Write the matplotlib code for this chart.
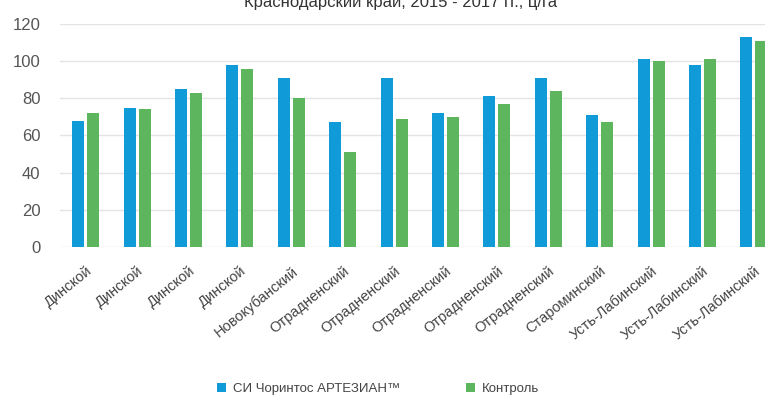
import matplotlib
matplotlib.use("Agg")
import matplotlib.pyplot as plt
import numpy as np

plt.rcParams.update({"font.family": ["Liberation Sans Narrow", "Liberation Sans", "DejaVu Sans"]})
BLUE, GREEN, GRID, TXT = "#109bd8", "#5db65d", "#e4e4e4", "#555555"

districts = ["Динской", "Динской", "Динской", "Динской", "Новокубанский",
             "Отрадненский", "Отрадненский", "Отрадненский", "Отрадненский",
             "Отрадненский", "Староминский", "Усть-Лабинский", "Усть-Лабинский",
             "Усть-Лабинский"]
artesian = [68, 75, 85, 98, 91, 67, 91, 72, 81, 91, 71, 101, 98, 113]
control = [72, 74, 83, 96, 80, 51, 69, 70, 77, 84, 67, 100, 101, 111]
series_names = ["СИ Чоринтос АРТЕЗИАН™", "Контроль"]
yticks = [0, 20, 40, 60, 80, 100, 120]

fig = plt.figure(figsize=(7.65, 3.98), dpi=100)
ax = fig.add_axes([60/765, 0.3794, 0.9406, 0.5603])
x = np.arange(len(districts))
w = 0.235
ax.bar(x - 0.146, artesian, w, color=BLUE, label=series_names[0], zorder=3)
ax.bar(x + 0.146, control, w, color=GREEN, label=series_names[1], zorder=3)
ax.set_xlim(-0.5, len(districts) - 0.5)
ax.set_ylim(0, 120)
ax.set_yticks(yticks)
ax.yaxis.grid(True, color=GRID, lw=1, zorder=0)
for sp in ax.spines.values():
    sp.set_visible(False)
ax.tick_params(axis="both", length=0, colors=TXT)
ax.tick_params(axis="y", labelsize=12, pad=14)
for t in ax.get_yticklabels():
    t.set_family(["Liberation Sans", "DejaVu Sans"])
ax.set_xticks(x)
ax.set_xticklabels(districts, rotation=39, ha="right", rotation_mode="anchor",
                   fontsize=10.5, color="#444444")
ax.tick_params(axis="x", pad=12)

fig.text(0.523, 0.995, "Краснодарский край, 2015 - 2017 гг., ц/га", ha="center",
         va="center", fontsize=12, color="#333333")
fig.legend(loc="lower center", bbox_to_anchor=(0.494, -0.022), ncol=2, frameon=False,
           fontsize=9.5, handlelength=0.7, handleheight=0.7, columnspacing=5,
           labelcolor="#444444", handletextpad=0.5)
fig.savefig("out.png", dpi=100)
